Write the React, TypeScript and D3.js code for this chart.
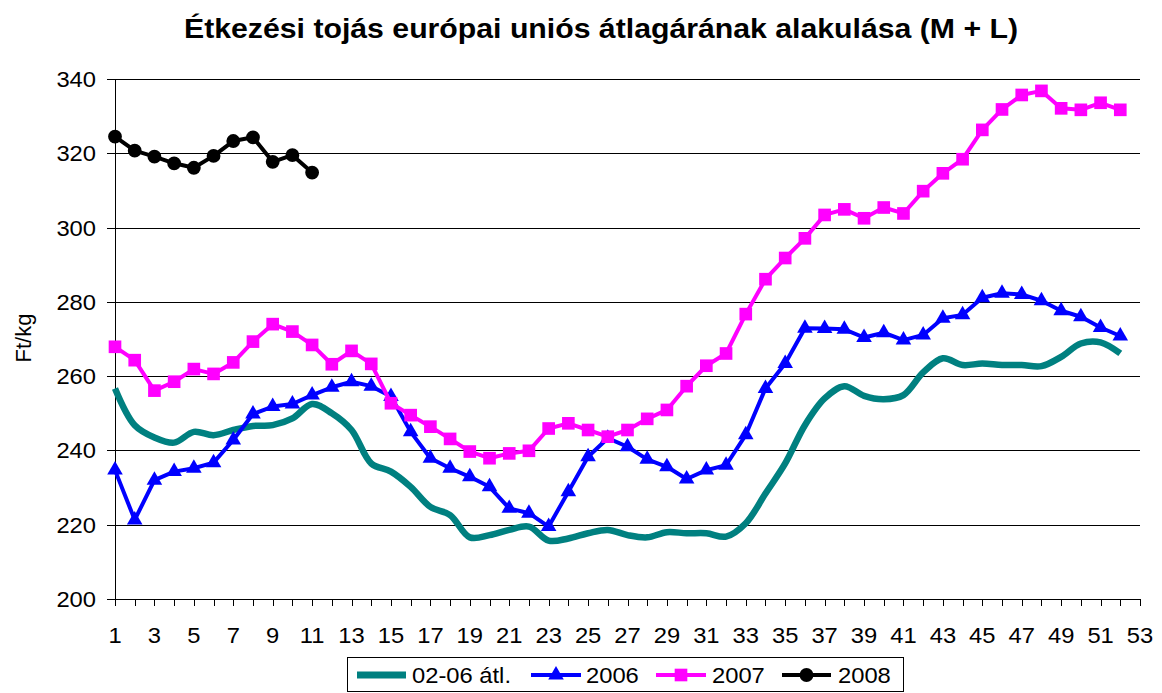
import * as d3 from "d3";

// weekly average prices, Ft/kg
const weeks = d3.range(1, 53);
const avg0206 = [
  256.7, 246.8, 243.5, 242.1, 245.0, 244.1, 245.5, 246.6, 246.8, 248.6,
  252.5, 250.0, 245.5, 236.5, 234.3, 230.2, 224.8, 222.6, 216.6, 217.2,
  218.6, 219.5, 215.7, 216.3, 217.7, 218.6, 217.2, 216.6, 218.0, 217.7,
  217.7, 216.8, 220.4, 228.4, 236.5, 246.8, 254.0, 257.3, 254.7, 253.8,
  254.9, 261.0, 264.8, 263.0, 263.4, 263.0, 263.0, 262.7, 265.2, 268.8,
  269.1, 266.1,
];
const s2006 = [
  234.7, 221.3, 232.0, 234.3, 235.2, 236.7, 242.8, 249.8, 251.8, 252.5,
  254.9, 257.0, 258.5, 257.3, 254.5, 245.0, 237.9, 235.2, 232.9, 230.2,
  224.4, 223.1, 219.5, 228.9, 238.3, 243.3, 241.0, 237.6, 235.6, 232.3,
  234.7, 236.0, 244.2, 256.7, 263.4, 272.9, 272.8, 272.6, 270.4, 271.7,
  269.7, 271.1, 275.6, 276.5, 281.1, 282.3, 282.0, 280.3, 277.6, 276.0,
  273.1, 270.8,
];
const s2007 = [
  267.9, 264.3, 256.1, 258.5, 261.9, 260.6, 263.7, 269.3, 274.0, 272.0,
  268.4, 263.2, 266.8, 263.3, 252.7, 249.5, 246.4, 243.1, 239.7, 237.9,
  239.2, 239.9, 245.9, 247.3, 245.5, 243.7, 245.5, 248.5, 250.9, 257.3,
  262.8, 266.1, 276.7, 286.1, 291.8, 297.1, 303.4, 304.9, 302.5, 305.4,
  303.8, 309.8, 314.6, 318.4, 326.3, 331.8, 335.7, 336.8, 332.1, 331.7,
  333.6, 331.7,
];
const s2008 = [324.5, 320.7, 319.1, 317.3, 316.1, 319.3, 323.3, 324.3, 317.7, 319.5, 314.8];

const yTicks = [200, 220, 240, 260, 280, 300, 320, 340];
const xTickLabels = d3.range(1, 54, 2);
const seriesNames = ["02-06 átl.", "2006", "2007", "2008"];

const FONT = "'Liberation Sans', Arial, sans-serif";
const SX = 1.08; // the original text is a bit wide

export default function App() {
  const x = d3.scaleLinear().domain([1, 53]).range([115, 1140]);
  const y = d3.scaleLinear().domain([200, 340]).range([599, 79]);

  const pts = (vals: number[]) => vals.map((v, i) => [x(weeks[i]), y(v)] as [number, number]);
  const straight = d3.line();
  const smooth = d3.line().curve(d3.curveCatmullRom.alpha(0.5));

  const tri = d3.symbol(d3.symbolTriangle, 105)();
  const sq = d3.symbol(d3.symbolSquare, 160)();
  const circ = d3.symbol(d3.symbolCircle, 150)();

  const series = [
    { vals: s2006, color: "#0000ff", marker: tri },
    { vals: s2007, color: "#ff00ff", marker: sq },
    { vals: s2008, color: "#000000", marker: circ },
  ];

  const legend = [
    { name: seriesNames[0], x0: 357, x1: 406, tx: 412, color: "#008080", marker: null, w: 7 },
    { name: seriesNames[1], x0: 531, x1: 581, tx: 586, color: "#0000ff", marker: tri, w: 4 },
    { name: seriesNames[2], x0: 656, x1: 706, tx: 712, color: "#ff00ff", marker: sq, w: 4 },
    { name: seriesNames[3], x0: 782, x1: 831, tx: 838, color: "#000000", marker: circ, w: 4 },
  ];

  return (
    <svg width={1162} height={693} style={{ position: "absolute", left: 0, top: 0, background: "#fff" }}
      fontFamily={FONT}>
      <text transform={`translate(601,38) scale(${SX},1)`} textAnchor="middle" fontSize={28} fontWeight="bold">
        Étkezési tojás európai uniós átlagárának alakulása (M + L)
      </text>

      {/* gridlines + y axis */}
      {yTicks.map((t) => (
        <g key={t}>
          <line x1={107} x2={t === 200 ? 115 : 1140} y1={Math.round(y(t)) + 0.5} y2={Math.round(y(t)) + 0.5}
            stroke="#000" strokeWidth={1} />
          <text transform={`translate(96,${y(t) + 8}) scale(${SX},1)`} textAnchor="end" fontSize={22}>{t}</text>
        </g>
      ))}
      <line x1={115.5} x2={115.5} y1={79} y2={606} stroke="#000" />
      <line x1={115} x2={1140} y1={599.5} y2={599.5} stroke="#000" />
      {d3.range(1, 54).map((w) => (
        <line key={w} x1={Math.round(x(w)) + 0.5} x2={Math.round(x(w)) + 0.5} y1={599} y2={606} stroke="#000" />
      ))}
      {xTickLabels.map((w) => (
        <text key={w} transform={`translate(${x(w)},643) scale(${SX},1)`} textAnchor="middle" fontSize={22}>{w}</text>
      ))}
      <text transform="translate(31,338) rotate(-90)" textAnchor="middle" fontSize={22}>Ft/kg</text>

      {/* series */}
      <path d={smooth(pts(avg0206)) ?? ""} fill="none" stroke="#008080" strokeWidth={6.5} strokeLinejoin="round" />
      {series.map((s, k) => (
        <g key={k}>
          <path d={straight(pts(s.vals)) ?? ""} fill="none" stroke={s.color} strokeWidth={4} strokeLinejoin="round" />
          {pts(s.vals).map(([px, py], i) => (
            <path key={i} d={s.marker ?? ""} transform={`translate(${px},${py})`} fill={s.color} />
          ))}
        </g>
      ))}

      {/* legend */}
      <rect x={347.5} y={657.5} width={556} height={34} fill="#fff" stroke="#000" />
      {legend.map((l) => (
        <g key={l.name}>
          <line x1={l.x0} x2={l.x1} y1={675} y2={675} stroke={l.color} strokeWidth={l.w} />
          {l.marker && <path d={l.marker} transform={`translate(${(l.x0 + l.x1) / 2},675)`} fill={l.color} />}
          <text transform={`translate(${l.tx},683) scale(${SX},1)`} fontSize={22}>{l.name}</text>
        </g>
      ))}
    </svg>
  );
}
